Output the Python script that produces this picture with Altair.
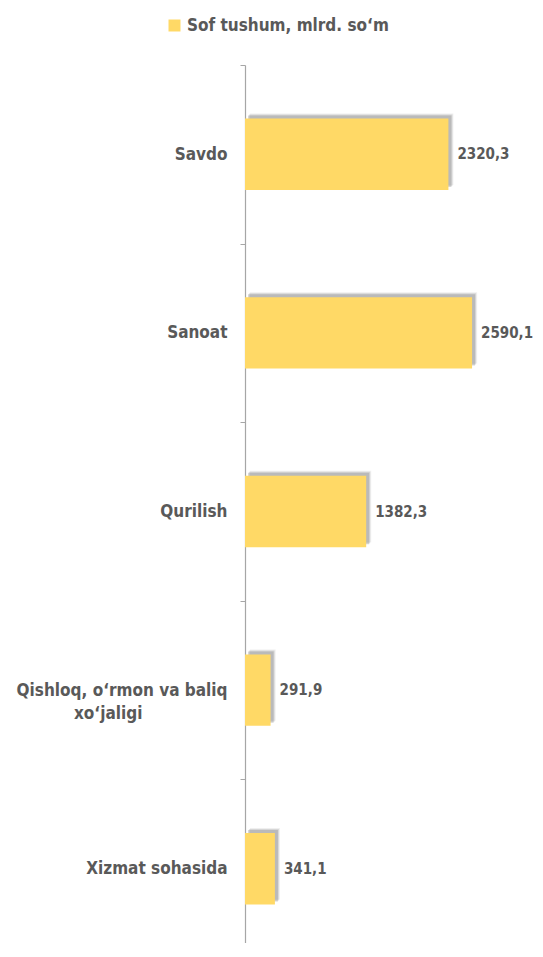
import altair as alt
import pandas as pd

categories = ["Savdo", "Sanoat", "Qurilish", "Qishloq, o‘rmon va baliq|xo‘jaligi" + "\u00a0" * 16 + "\u200b", "Xizmat sohasida"]
values = [2320.3, 2590.1, 1382.3, 291.9, 341.1]
series_name = "Sof tushum, mlrd. so‘m"

df = pd.DataFrame({"cat": categories, "v": values, "series": [series_name] * len(values)})

FONT = "Liberation Sans Narrow, Arial Narrow, DejaVu Sans Condensed, sans-serif"
TXT = "#595959"
BAR = "#FFD966"

y_enc = alt.Y(
    "cat:N",
    sort=categories,
    scale=alt.Scale(paddingInner=0, paddingOuter=0),
    axis=alt.Axis(
        title=None,
        tickBand="extent",
        tickSize=5,
        tickColor="#a6a6a6",
        domainColor="#a6a6a6",
        domainWidth=1.2,
        labelFont=FONT,
        labelFontSize=17,
        labelFontWeight="bold",
        labelColor=TXT,
        labelPadding=13,
        labelLimit=300,
        labelLineHeight=23,
        labelExpr="split(datum.label, '|')",
    ),
)
x_enc = alt.X("v:Q", scale=alt.Scale(domain=[0, 3000]), axis=None)

base = alt.Chart(df)

shadows = [
    base.mark_bar(height={"band": 0.4}, color="#7f7f7f", opacity=op, xOffset=o, yOffset=-o).encode(x=x_enc, y=y_enc)
    for o, op in [(5, 0.12), (4, 0.22), (3, 0.32)]
]

bars = base.mark_bar(height={"band": 0.4}).encode(
    x=x_enc,
    y=y_enc,
    color=alt.Color(
        "series:N",
        scale=alt.Scale(range=[BAR]),
        legend=alt.Legend(
            title=None,
            orient="none",
            legendX=-79,
            legendY=-48,
            symbolType="square",
            symbolSize=144,
            symbolStrokeWidth=0,
            symbolOpacity=1,
            labelFont=FONT,
            labelFontSize=17,
            labelFontWeight="bold",
            labelColor=TXT,
            labelLimit=400,
            labelOffset=4,
        ),
    ),
)

labels = base.transform_calculate(
    lab="replace(format(datum.v, '.1f'), '.', ',')"
).mark_text(
    align="left", baseline="middle", dx=9, font=FONT, fontSize=15, fontWeight="bold", color=TXT
).encode(x=x_enc, y=y_enc, text="lab:N")

chart = alt.layer(*shadows, bars, labels).properties(
    width=263,
    height=893,
    autosize=alt.AutoSizeParams(type="none"),
    padding={"left": 237, "top": 57, "right": 27, "bottom": -15},
).configure_view(stroke=None)

chart.save("out.html", embed_options={"renderer": "svg", "actions": False})
